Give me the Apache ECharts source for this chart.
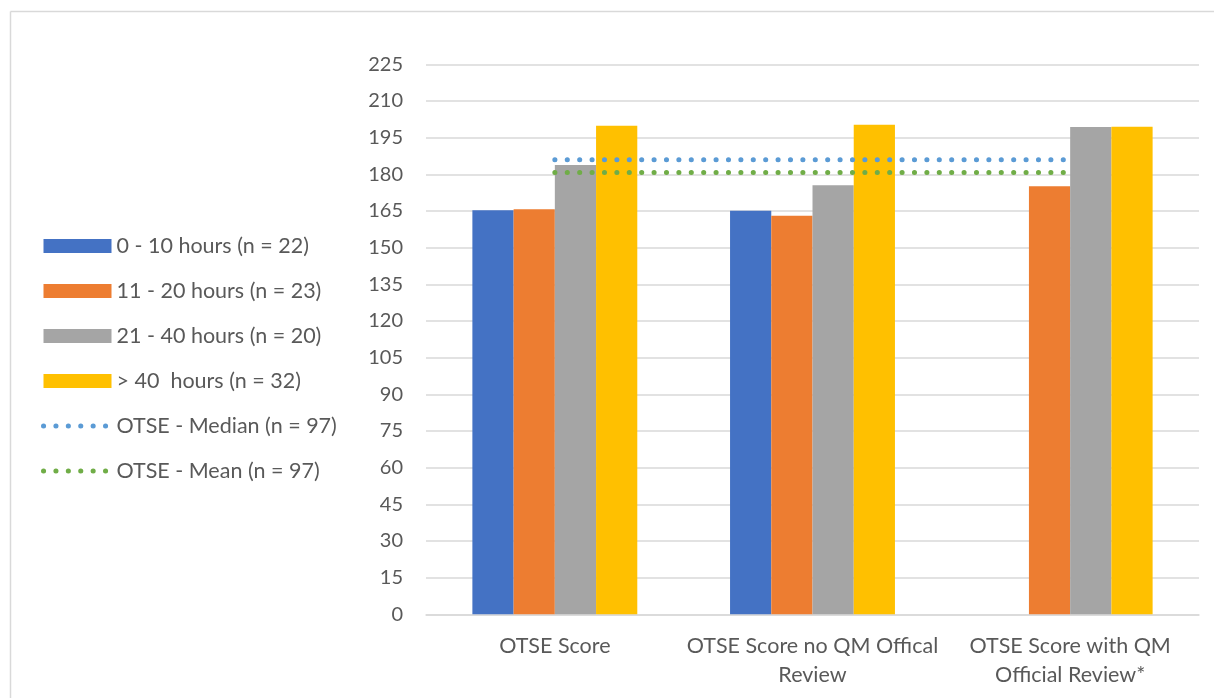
<!DOCTYPE html>
<html>
<head>
<meta charset="utf-8">
<title>OTSE Score by hours</title>
<script src="https://cdn.jsdelivr.net/npm/echarts@6/dist/echarts.min.js"></script>
<style>
  html, body { margin: 0; padding: 0; background: #ffffff; }
  #chart { width: 1214px; height: 698px; }
</style>
</head>
<body>
<div id="chart"></div>
<script>
// Category labels (two-line where the label wraps)
const categories = ['OTSE Score', 'OTSE Score no QM Offical\nReview', 'OTSE Score with QM\nOfficial Review*'];

// Average OTSE score per group of hours
const hours0to10 = [165.3, 165.1, null];
const hours11to20 = [165.7, 163.0, 175.1];
const hours21to40 = [183.8, 175.5, 199.3];
const hoursOver40 = [199.9, 200.3, 199.5];

// Overall reference levels
const otseMedian = [186, 186, 186];
const otseMean = [180.7, 180.7, 180.7];

// Y axis ticks
const yMin = 0, yMax = 225, yStep = 15;

const seriesNames = ['0 - 10 hours (n = 22)', '11 - 20 hours (n = 23)', '21 - 40 hours (n = 20)', '>\u00a040  hours (n = 32)', 'OTSE - Median (n = 97)', 'OTSE - Mean (n = 97)'];
const colors = ['#4472C4', '#ED7D31', '#A5A5A5', '#FFC000', '#5B9BD5', '#70AD47'];

const labelFont = 'Lato, "Liberation Sans", sans-serif';
const textColor = '#595959';
const gridColor = '#d9d9d9';
const dotDash = [0.1, 12.3];

const chart = echarts.init(document.getElementById('chart'), null, { renderer: 'canvas' });

function barSeries(name, data, color) {
  return {
    name: name,
    type: 'bar',
    data: data,
    barGap: '0%',
    barCategoryGap: '36%',
    itemStyle: { color: color },
    emphasis: { disabled: true }
  };
}

function levelSeries(name, data, color) {
  return {
    name: name,
    type: 'line',
    data: data,
    symbol: 'none',
    lineStyle: { color: color, width: 5, type: dotDash, cap: 'round' },
    itemStyle: { color: color },
    emphasis: { disabled: true },
    z: 5
  };
}

function lineLegendItem(name, color) {
  return {
    name: name,
    itemStyle: { opacity: 0 },
    lineStyle: { color: color, width: 5, type: dotDash, cap: 'round' }
  };
}

chart.setOption({
  animation: false,
  color: colors,
  graphic: [
    { type: 'line', shape: { x1: 10.5, y1: 11.5, x2: 1214, y2: 11.5 }, style: { stroke: gridColor, lineWidth: 1.5 } },
    { type: 'line', shape: { x1: 10.5, y1: 11.5, x2: 10.5, y2: 698 }, style: { stroke: gridColor, lineWidth: 1.5 } }
  ],
  legend: {
    orient: 'vertical',
    left: 36,
    top: 230,
    itemWidth: 68,
    itemHeight: 14,
    itemGap: 23,
    selectedMode: false,
    textStyle: { fontFamily: labelFont, fontSize: 21.5, color: textColor, lineHeight: 20, padding: [0, 0, 0, 0] },
    data: [
      { name: seriesNames[0], icon: 'rect' },
      { name: seriesNames[1], icon: 'rect' },
      { name: seriesNames[2], icon: 'rect' },
      { name: seriesNames[3], icon: 'rect' },
      lineLegendItem(seriesNames[4], colors[4]),
      lineLegendItem(seriesNames[5], colors[5])
    ]
  },
  grid: { left: 426, right: 15, top: 64.3, bottom: 83.7, containLabel: false },
  xAxis: {
    type: 'category',
    data: categories,
    axisLine: { lineStyle: { color: gridColor, width: 1.5 } },
    axisTick: { show: false },
    axisLabel: { fontFamily: labelFont, fontSize: 21.5, color: textColor, lineHeight: 29, margin: 17, interval: 0 }
  },
  yAxis: {
    type: 'value',
    min: yMin,
    max: yMax,
    interval: yStep,
    axisLine: { show: false },
    axisTick: { show: false },
    splitLine: { lineStyle: { color: gridColor, width: 1.5 } },
    axisLabel: { fontFamily: labelFont, fontSize: 20, color: textColor, margin: 23 }
  },
  series: [
    barSeries(seriesNames[0], hours0to10, colors[0]),
    barSeries(seriesNames[1], hours11to20, colors[1]),
    barSeries(seriesNames[2], hours21to40, colors[2]),
    barSeries(seriesNames[3], hoursOver40, colors[3]),
    levelSeries(seriesNames[4], otseMedian, colors[4]),
    levelSeries(seriesNames[5], otseMean, colors[5])
  ]
});
</script>
</body>
</html>
